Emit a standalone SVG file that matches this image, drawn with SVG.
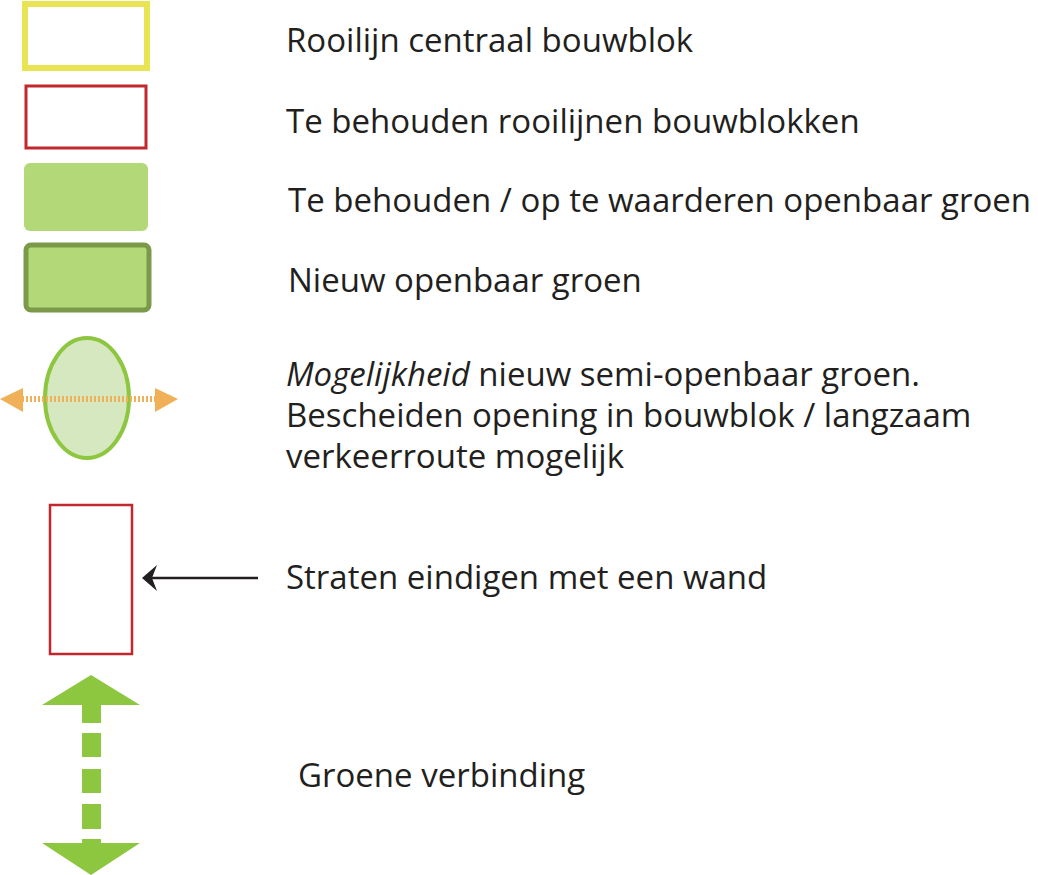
<svg xmlns="http://www.w3.org/2000/svg" width="1038" height="875" viewBox="0 0 1038 875">
<style>
text{font-family:"Open Sans","Liberation Sans",Arial,sans-serif;font-size:33px;fill:#231f20}
</style>
<rect width="1038" height="875" fill="#fff"/>
<g id="n1"><rect x="25" y="4" width="122" height="64" fill="none" stroke="#e8e454" stroke-width="6"/><text x="286" y="52">Rooilijn centraal bouwblok</text></g>
<g id="n2"><rect x="26" y="86" width="120" height="62" fill="none" stroke="#c1272d" stroke-width="3"/><text x="286" y="133">Te behouden rooilijnen bouwblokken</text></g>
<g id="n3"><rect x="24" y="163" width="124" height="68" rx="6" fill="#b2d878"/><text x="288" y="212">Te behouden / op te waarderen openbaar groen</text></g>
<g id="n4"><rect x="26" y="245" width="123" height="65" rx="5" fill="#b2d878" stroke="#7a9a4a" stroke-width="5"/><text x="288" y="292">Nieuw openbaar groen</text></g>
<g id="n5">
<ellipse cx="87" cy="398" rx="42" ry="60" fill="#d5e8c0" stroke="#8dc63f" stroke-width="4"/>
<line x1="22" y1="399" x2="156" y2="399" stroke="#f0b058" stroke-width="6" stroke-dasharray="2,2"/>
<polygon points="0,399 23,388 23,412" fill="#f0b058"/>
<polygon points="178,399 155,388 155,412" fill="#f0b058"/>
<text x="286" y="386"><tspan font-style="italic">Mogelijkheid</tspan> nieuw semi-openbaar groen.</text>
<text x="286" y="427">Bescheiden opening in bouwblok  / langzaam</text>
<text x="286" y="468">verkeerroute mogelijk</text>
</g>
<g id="n6"><rect x="50" y="505" width="82" height="149" fill="none" stroke="#c1272d" stroke-width="2.5"/><text x="286" y="589">Straten eindigen met een wand</text></g>
<g id="n7">
<polygon points="91,675 140,705 42,705" fill="#8dc63f"/>
<rect x="82" y="704" width="19" height="19" fill="#8dc63f"/>
<rect x="82" y="733" width="19" height="24" fill="#8dc63f"/>
<rect x="82" y="769" width="19" height="24" fill="#8dc63f"/>
<rect x="82" y="804" width="19" height="25" fill="#8dc63f"/>
<rect x="82" y="839" width="19" height="5" fill="#8dc63f"/>
<polygon points="91,875 140,843 42,843" fill="#8dc63f"/>
<text x="298" y="787">Groene verbinding</text>
</g>
<g id="connectors">
<line x1="150" y1="578" x2="258" y2="578" stroke="#231f20" stroke-width="2.5"/>
<polygon points="142,578 157,565 152,578 157,591" fill="#231f20"/>
</g>
</svg>
